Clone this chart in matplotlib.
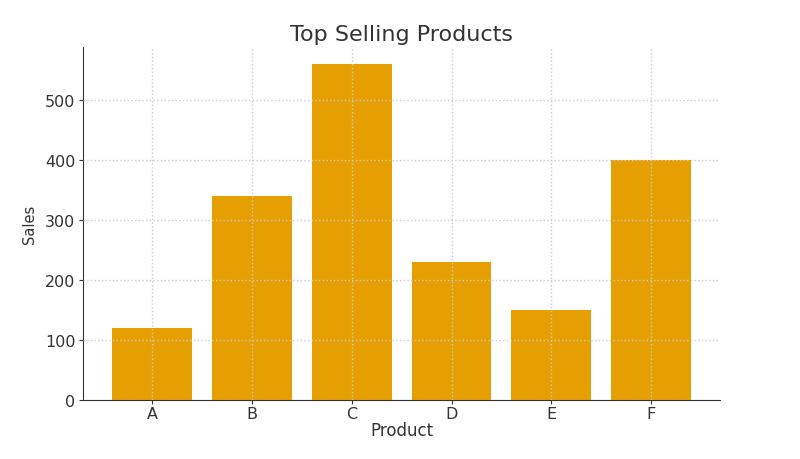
import matplotlib
matplotlib.use("Agg")
import matplotlib.pyplot as plt

products = ["A", "B", "C", "D", "E", "F"]
sales = [120, 340, 560, 230, 150, 400]

fig = plt.figure(figsize=(8, 4.6), dpi=100)
ax = fig.add_axes([0.104, 0.128, 0.796, 0.768])
ax.bar(products, sales, color="#E69F00", width=0.8, zorder=1)
ax.set_axisbelow(False)
ax.grid(True, linestyle=":", color="#cccccc", linewidth=1.0, zorder=2)
ax.set_title("Top Selling Products", fontsize=16, color="#333333", pad=5)
ax.set_xlabel("Product", fontsize=12, color="#333333", labelpad=0)
ax.set_ylabel("Sales", fontsize=10.5, color="#333333", labelpad=6)
ax.tick_params(colors="#333333", labelsize=11.5, length=3, pad=2.5)
ax.tick_params(axis="x", pad=1.5)
for s in ["top", "right"]:
    ax.spines[s].set_visible(False)
for s in ["left", "bottom"]:
    ax.spines[s].set_color("#333333")
ax.set_yticks([0, 100, 200, 300, 400, 500])
fig.savefig("out.png", dpi=100)
